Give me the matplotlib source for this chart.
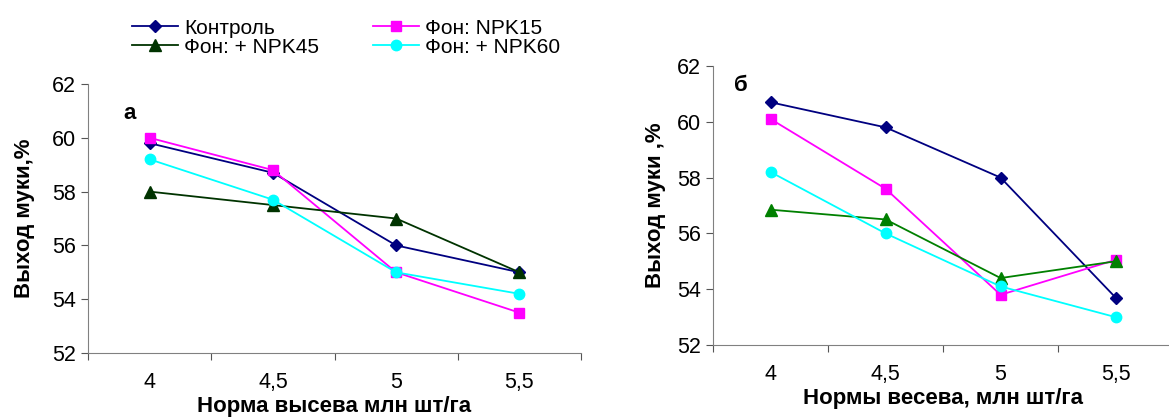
import matplotlib.pyplot as plt

plt.rcParams['font.family'] = ['Liberation Sans', 'DejaVu Sans']

rates = ['4', '4,5', '5', '5,5']
names = ['Контроль', 'Фон: NPK15', 'Фон: + NPK45', 'Фон: + NPK60']

# panel а
a_control = [59.8, 58.7, 56.0, 55.0]
a_npk15 = [60.0, 58.8, 55.0, 53.5]
a_npk45 = [58.0, 57.5, 57.0, 55.0]
a_npk60 = [59.2, 57.7, 55.0, 54.2]

# panel б
b_control = [60.7, 59.8, 58.0, 53.7]
b_npk15 = [60.1, 57.6, 53.8, 55.05]
b_npk45 = [56.85, 56.5, 54.4, 55.0]
b_npk60 = [58.2, 56.0, 54.1, 53.0]

markers = ['D', 's', '^', 'o']
sizes = [6, 7, 8, 7.5]
a_colors = ['#000080', '#FF00FF', '#003300', '#00FFFF']
b_colors = ['#000080', '#FF00FF', '#008000', '#00FFFF']

fig = plt.figure(figsize=(11.69, 4.18), dpi=100)
ax1 = fig.add_axes([0.0753, 0.1555, 0.4217, 0.6435])
ax2 = fig.add_axes([0.610, 0.1746, 0.3935, 0.6675])


def draw(ax, series, colors, xlabel, ylabel, tag, tag_xy, ypad):
    x = range(len(rates))
    lines = []
    for vals, c, m, s, n in zip(series, colors, markers, sizes, names):
        ln, = ax.plot(x, vals, color=c, marker=m, markersize=s, linewidth=1.3,
                      markeredgecolor=c, label=n)
        lines.append(ln)
    ax.set_xlim(-0.5, 3.5)
    ax.set_ylim(52, 62)
    ax.set_yticks([52, 54, 56, 58, 60, 62])
    ax.set_xticks([-0.5, 0.5, 1.5, 2.5, 3.5])
    ax.set_xticklabels([])
    ax.set_xticks(list(x), minor=True)
    ax.set_xticklabels(rates, minor=True)
    ax.tick_params(axis='x', which='major', direction='out', length=5, color='#555555')
    ax.tick_params(axis='x', which='minor', length=0, pad=14, labelsize=15.5)
    ax.tick_params(axis='y', direction='out', length=5, color='#555555', labelsize=15.5)
    for side in ['top', 'right']:
        ax.spines[side].set_visible(False)
    for side in ['left', 'bottom']:
        ax.spines[side].set_color('#808080')
    ax.set_xlabel(xlabel, fontsize=16, fontweight='bold', labelpad=2)
    ax.set_ylabel(ylabel, fontsize=16, fontweight='bold', labelpad=ypad)
    ax.text(tag_xy[0], tag_xy[1], tag, transform=ax.transAxes, fontsize=16,
            fontweight='bold', ha='center', va='center')
    return lines


lines = draw(ax1, [a_control, a_npk15, a_npk45, a_npk60], a_colors,
             'Норма высева млн шт/га', 'Выход муки,%', 'а', (0.085, 0.89), 12)
draw(ax2, [b_control, b_npk15, b_npk45, b_npk60], b_colors,
     'Нормы весева, млн шт/га', 'Выход муки ,%', 'б', (0.06, 0.93), 8)

# legend is filled column by column, so order it to read row by row
order = [0, 2, 1, 3]
fig.legend([lines[i] for i in order], [names[i] for i in order], ncol=2,
           loc='upper left', bbox_to_anchor=(0.097, 1.0),
           frameon=False, fontsize=15, handlelength=2.2, handletextpad=0.3,
           columnspacing=2.6, labelspacing=0.0)

fig.savefig('out.png', dpi=100)
